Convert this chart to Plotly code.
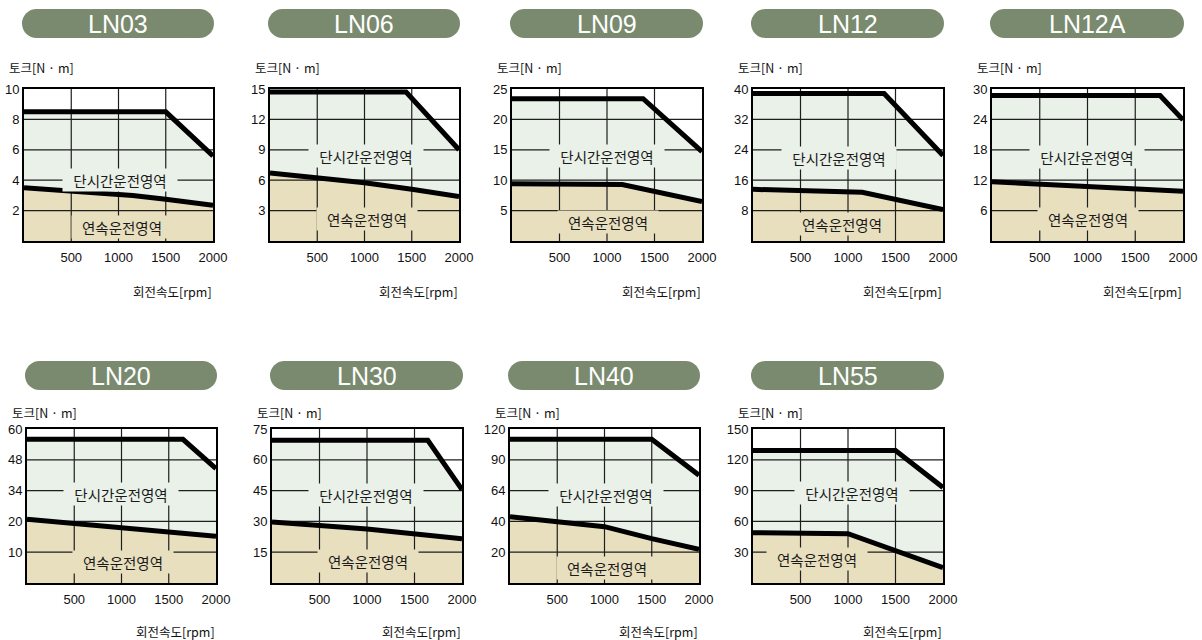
import numpy as np
import plotly.graph_objects as go

# ---------------- data ----------------
models = ["LN03", "LN06", "LN09", "LN12", "LN12A", "LN20", "LN30", "LN40", "LN55"]
x_ticks = [500, 1000, 1500, 2000]

ln03_yticks = [2, 4, 6, 8, 10]
ln06_yticks = [3, 6, 9, 12, 15]
ln09_yticks = [5, 10, 15, 20, 25]
ln12_yticks = [8, 16, 24, 32, 40]
ln12a_yticks = [6, 12, 18, 24, 30]
ln20_yticks = [10, 20, 34, 48, 60]
ln30_yticks = [15, 30, 45, 60, 75]
ln40_yticks = [20, 40, 64, 90, 120]
ln55_yticks = [30, 60, 90, 120, 150]

ln03_peak_rpm = [0, 1500, 2000]
ln03_peak_torque = [8.5, 8.5, 5.6]
ln03_cont_rpm = [0, 1150, 1500, 2000]
ln03_cont_torque = [3.5, 3.0, 2.75, 2.35]

ln06_peak_rpm = [0, 1440, 2000]
ln06_peak_torque = [14.7, 14.7, 9.0]
ln06_cont_rpm = [0, 1000, 1500, 2000]
ln06_cont_torque = [6.7, 5.75, 5.1, 4.4]

ln09_peak_rpm = [0, 1380, 2000]
ln09_peak_torque = [23.4, 23.4, 14.7]
ln09_cont_rpm = [0, 1160, 2000]
ln09_cont_torque = [9.4, 9.3, 6.5]

ln12_peak_rpm = [0, 1380, 2000]
ln12_peak_torque = [38.8, 38.8, 22.5]
ln12_cont_rpm = [0, 1150, 2000]
ln12_cont_torque = [13.6, 12.8, 8.3]

ln12a_peak_rpm = [0, 1760, 2000]
ln12a_peak_torque = [28.7, 28.7, 23.9]
ln12a_cont_rpm = [0, 2000]
ln12a_cont_torque = [11.7, 9.8]

ln20_peak_rpm = [0, 1650, 2000]
ln20_peak_torque = [56, 56, 44]
ln20_cont_rpm = [0, 2000]
ln20_cont_torque = [21, 15.2]

ln30_peak_rpm = [0, 1640, 2000]
ln30_peak_torque = [69.5, 69.5, 45.5]
ln30_cont_rpm = [0, 1000, 2000]
ln30_cont_torque = [29.7, 26.3, 21.6]

ln40_peak_rpm = [0, 1500, 2000]
ln40_peak_torque = [110, 110, 77]
ln40_cont_rpm = [0, 1000, 1500, 2000]
ln40_cont_torque = [43.7, 36.6, 28.8, 21.8]

ln55_peak_rpm = [0, 1500, 2000]
ln55_peak_torque = [129, 129, 93]
ln55_cont_rpm = [0, 1000, 2000]
ln55_cont_torque = [49, 48, 15]

y_label = "토크[N · m]"
x_label = "회전속도[rpm]"
peak_label = "단시간운전영역"
cont_label = "연속운전영역"

panel_data = [
    (ln03_yticks, ln03_peak_rpm, ln03_peak_torque, ln03_cont_rpm, ln03_cont_torque),
    (ln06_yticks, ln06_peak_rpm, ln06_peak_torque, ln06_cont_rpm, ln06_cont_torque),
    (ln09_yticks, ln09_peak_rpm, ln09_peak_torque, ln09_cont_rpm, ln09_cont_torque),
    (ln12_yticks, ln12_peak_rpm, ln12_peak_torque, ln12_cont_rpm, ln12_cont_torque),
    (ln12a_yticks, ln12a_peak_rpm, ln12a_peak_torque, ln12a_cont_rpm, ln12a_cont_torque),
    (ln20_yticks, ln20_peak_rpm, ln20_peak_torque, ln20_cont_rpm, ln20_cont_torque),
    (ln30_yticks, ln30_peak_rpm, ln30_peak_torque, ln30_cont_rpm, ln30_cont_torque),
    (ln40_yticks, ln40_peak_rpm, ln40_peak_torque, ln40_cont_rpm, ln40_cont_torque),
    (ln55_yticks, ln55_peak_rpm, ln55_peak_torque, ln55_cont_rpm, ln55_cont_torque),
]

# ---------------- layout (pixels) ----------------
W, H = 1202, 640
plot_boxes = [
    (24, 213, 0), (270, 459, 0), (512, 702, 0), (753, 943, 0), (992, 1183, 0),
    (27, 216, 1), (272, 462, 1), (510, 699, 1), (753, 943, 1),
]
row_top = [89, 429]
row_bot = [241, 583]
row_pill = [(9, 38), (361, 390)]
row_ylab = [68, 412]
row_xlab = [291, 631]

peak_lbl_pos = [(1020, 2.0), (1016, 2.8), (996, 2.78), (904, 2.72), (991, 2.77),
                (993, 2.9), (989, 2.85), (1012, 2.85), (1046, 2.93)]
cont_lbl_pos = [(1042, 0.46), (1030, 0.74), (1014, 0.63), (933, 0.57), (1009, 0.71),
                (1011, 0.68), (1007, 0.73), (1030, 0.49), (669, 0.79)]

GREEN = "#e9f1e8"
BEIGE = "#e8dfbe"
PILL = "#7a8a6e"
GRID = "#1e1e1e"

def px_x(p):
    return p / W

def px_y(p):
    return 1 - p / H

fig = go.Figure()
shapes = []
annotations = []
layout_axes = {}

for i, (name, data, box) in enumerate(zip(models, panel_data, plot_boxes)):
    yticks, pk_x, pk_y, ct_x, ct_y = data
    left, right, row = box
    top, bot = row_top[row], row_bot[row]
    n = i + 1
    xa = "x" if n == 1 else f"x{n}"
    ya = "y" if n == 1 else f"y{n}"
    xk = "xaxis" if n == 1 else f"xaxis{n}"
    yk = "yaxis" if n == 1 else f"yaxis{n}"

    grid_pos = list(range(0, len(yticks) + 1))
    tick_vals = [0] + list(yticks)
    pk_g = np.interp(np.array(pk_y, dtype=float), tick_vals, grid_pos)
    ct_g = np.interp(np.array(ct_y, dtype=float), tick_vals, grid_pos)
    ymax = grid_pos[-1]

    fig.add_trace(go.Scatter(x=pk_x, y=pk_g, mode="lines", fill="tozeroy",
                             fillcolor=GREEN, line=dict(width=0), xaxis=xa, yaxis=ya,
                             hoverinfo="skip", showlegend=False))
    fig.add_trace(go.Scatter(x=ct_x, y=ct_g, mode="lines", fill="tozeroy",
                             fillcolor=BEIGE, line=dict(width=0), xaxis=xa, yaxis=ya,
                             hoverinfo="skip", showlegend=False))
    gx, gy = [], []
    for xv in x_ticks[:-1]:
        gx += [xv, xv, None]
        gy += [0, ymax, None]
    for g in grid_pos[1:-1]:
        gx += [0, x_ticks[-1], None]
        gy += [g, g, None]
    fig.add_trace(go.Scatter(x=gx, y=gy, mode="lines", line=dict(color=GRID, width=1.2),
                             xaxis=xa, yaxis=ya, hoverinfo="skip", showlegend=False))
    fig.add_trace(go.Scatter(x=pk_x, y=pk_g, mode="lines", line=dict(color="black", width=5),
                             xaxis=xa, yaxis=ya, showlegend=False))
    fig.add_trace(go.Scatter(x=ct_x, y=ct_g, mode="lines", line=dict(color="black", width=5),
                             xaxis=xa, yaxis=ya, showlegend=False))

    tickfont = dict(size=13, color="#111", family="Liberation Sans, Arial")
    layout_axes[xk] = dict(domain=[px_x(left), px_x(right)], anchor=ya, range=[0, x_ticks[-1]],
                           showgrid=False, zeroline=False, showline=True, mirror=True,
                           linecolor="black", linewidth=2, tickvals=x_ticks, ticks="",
                           ticklabelstandoff=3,
                           tickfont=tickfont, automargin=False, fixedrange=True)
    layout_axes[yk] = dict(domain=[px_y(bot), px_y(top)], anchor=xa, range=[0, ymax],
                           showgrid=False, zeroline=False, showline=True, mirror=True,
                           linecolor="black", linewidth=2, tickvals=grid_pos[1:],
                           ticktext=[str(t) for t in yticks], ticks="",
                           tickfont=tickfont, automargin=False, fixedrange=True)

    px_, py_ = peak_lbl_pos[i]
    annotations.append(dict(x=px_, y=py_, xref=xa, yref=ya, text=peak_label, showarrow=False,
                            bgcolor=GREEN, width=114, height=22, borderpad=0,
                            font=dict(size=14.5, color="#1a1a1a", family="Noto Sans CJK KR")))
    cx_, cy_ = cont_lbl_pos[i]
    annotations.append(dict(x=cx_, y=cy_, xref=xa, yref=ya, text=cont_label, showarrow=False,
                            bgcolor=BEIGE, width=100, height=22, borderpad=0,
                            font=dict(size=14.5, color="#1a1a1a", family="Noto Sans CJK KR")))

    p0, p1 = row_pill[row]
    pl, pr = left - 2, right + 1
    r = (p1 - p0) / 2
    shapes.append(dict(type="rect", xref="paper", yref="paper", x0=px_x(pl + r), x1=px_x(pr - r),
                       y0=px_y(p1), y1=px_y(p0), fillcolor=PILL, line=dict(width=0), layer="above"))
    for cx in (pl + r, pr - r):
        shapes.append(dict(type="circle", xref="paper", yref="paper", x0=px_x(cx - r), x1=px_x(cx + r),
                           y0=px_y(p1), y1=px_y(p0), fillcolor=PILL, line=dict(width=0), layer="above"))
    annotations.append(dict(x=px_x((pl + pr) / 2), y=px_y((p0 + p1) / 2), xref="paper", yref="paper",
                            text=name, showarrow=False, xanchor="center", yanchor="middle",
                            font=dict(size=25, color="white", family="Liberation Sans, Arial")))
    annotations.append(dict(x=px_x(left - 17), y=px_y(row_ylab[row]), xref="paper", yref="paper",
                            text=y_label, showarrow=False, xanchor="left", yanchor="middle",
                            font=dict(size=12.5, color="#111", family="Noto Sans CJK KR")))
    annotations.append(dict(x=px_x(right + 1), y=px_y(row_xlab[row]), xref="paper", yref="paper",
                            text=x_label, showarrow=False, xanchor="right", yanchor="middle",
                            font=dict(size=12.5, color="#111", family="Noto Sans CJK KR")))

fig.update_layout(width=W, height=H, margin=dict(l=0, r=0, t=0, b=0, autoexpand=False),
                  paper_bgcolor="white", plot_bgcolor="white",
                  shapes=shapes, annotations=annotations, showlegend=False,
                  **layout_axes)
fig.write_html("out.html", config={"displayModeBar": False},
               post_script="document.body.style.margin='0';document.body.style.overflow='hidden';")
